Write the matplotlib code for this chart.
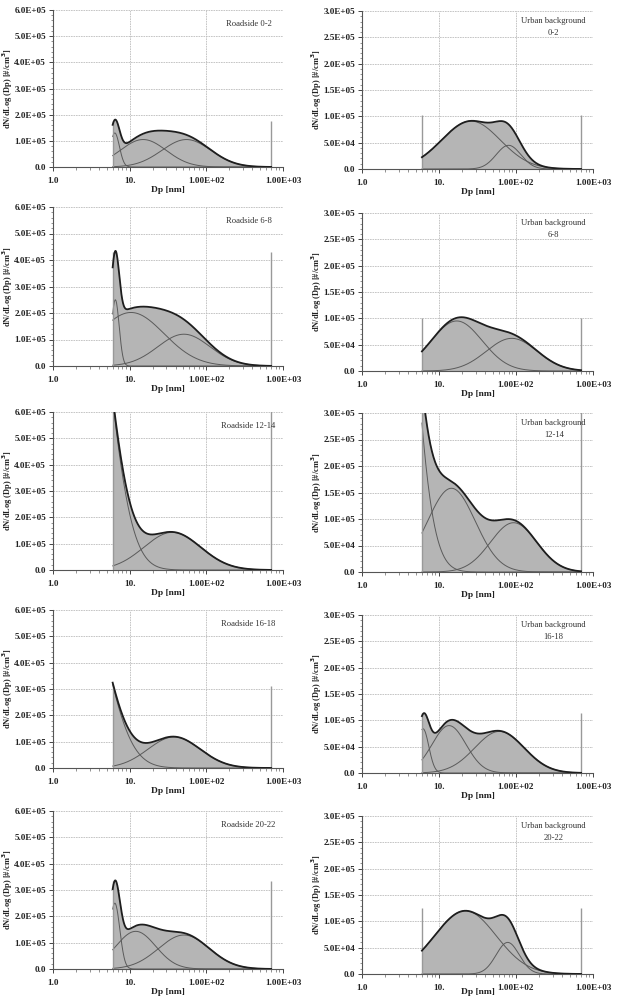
import numpy as np
import matplotlib
matplotlib.use('Agg')
import matplotlib.pyplot as plt
from matplotlib.ticker import FixedLocator, FuncFormatter, AutoMinorLocator, LogLocator, NullFormatter

plt.rcParams['font.family'] = ['Liberation Serif', 'DejaVu Serif']

# panel titles
roadside_titles = ['Roadside 0-2', 'Roadside 6-8', 'Roadside 12-14', 'Roadside 16-18', 'Roadside 20-22']
urban_titles = ['Urban background\n0-2', 'Urban background\n6-8', 'Urban background\n12-14',
                'Urban background\n16-18', 'Urban background\n20-22']

# fitted lognormal modes: (peak dN/dlogDp, peak Dp [nm], width in decades)
rs_0_2 = [(1.30e5, 6.4, 0.06), (1.05e5, 15, 0.30), (1.05e5, 55, 0.32)]
rs_6_8 = [(2.50e5, 6.5, 0.05), (2.02e5, 10.4, 0.43), (1.20e5, 51, 0.34)]
rs_12_14 = [(13.9e5, 2.4, 0.32), (1.43e5, 36, 0.37)]
rs_16_18 = [(7.4e5, 2.1, 0.35), (1.18e5, 38, 0.34)]
rs_20_22 = [(2.50e5, 6.4, 0.065), (1.43e5, 12, 0.26), (1.29e5, 51, 0.33)]

ub_0_2 = [(0.91e5, 26, 0.38), (0.45e5, 80, 0.16)]
ub_6_8 = [(0.95e5, 17, 0.33), (0.62e5, 88, 0.33)]
ub_12_14 = [(12e5, 2.0, 0.28), (1.58e5, 14.5, 0.31), (0.93e5, 93, 0.30)]
ub_16_18 = [(0.84e5, 6.2, 0.075), (0.90e5, 13.5, 0.22), (0.79e5, 61, 0.32)]
ub_20_22 = [(1.20e5, 22, 0.40), (0.60e5, 78, 0.15)]

roadside_modes = [rs_0_2, rs_6_8, rs_12_14, rs_16_18, rs_20_22]
urban_modes = [ub_0_2, ub_6_8, ub_12_14, ub_16_18, ub_20_22]

# height of the grey size-range markers at 6 nm and 700 nm
roadside_marker = [1.76e5, 4.3e5, 7e5, 3.1e5, 3.35e5]
urban_marker = [1.02e5, 1.0e5, 3.5e5, 1.13e5, 1.26e5]

dp_min, dp_max = 6.0, 700.0
x_tick_vals = [1, 10, 100, 1000]
x_tick_labels = ['1.0', '10.', '1.00E+02', '1.00E+03']

# axes boxes in pixels (top, bottom)
left_rows = [(10, 167), (207, 366), (412, 570), (610, 768), (811, 969)]
right_rows = [(11, 169), (213, 371), (413, 572), (615, 773), (816, 974)]

W, H = 620, 998
fig = plt.figure(figsize=(W / 100, H / 100), dpi=100)

dp = np.logspace(np.log10(dp_min), np.log10(dp_max), 400)


def mode_curve(peak, dg, w):
    return peak * np.exp(-(np.log10(dp / dg)) ** 2 / (2 * w ** 2))


def yfmt(v, pos):
    if abs(v) < 1e-9:
        return '0.0'
    return '%.1E' % v


def draw_panel(ax, modes, marker, ymax, ystep, title, tx, ty, xlab_gap=19):
    curves = [mode_curve(*m) for m in modes]
    total = np.sum(curves, axis=0)
    ax.fill_between(dp, 0, total, color='#b5b5b5', lw=0, zorder=2)
    for c in curves:
        ax.plot(dp, c, color='#5a5a5a', lw=0.7, zorder=3)
    ax.plot(dp, total, color='#1e1e1e', lw=1.3, zorder=4)
    ax.vlines([dp_min, dp_max], 0, marker, color='#999999', lw=1.0, zorder=3)

    ax.set_xscale('log')
    ax.set_xlim(1, 1000)
    ax.set_ylim(0, ymax)
    ax.xaxis.set_major_locator(FixedLocator(x_tick_vals))
    ax.set_xticklabels(x_tick_labels)
    ax.xaxis.set_minor_locator(LogLocator(base=10, subs=np.arange(2, 10)))
    ax.xaxis.set_minor_formatter(NullFormatter())
    ax.yaxis.set_major_locator(FixedLocator(np.arange(0, ymax + 1, ystep)))
    ax.yaxis.set_major_formatter(FuncFormatter(yfmt))
    ax.yaxis.set_minor_locator(AutoMinorLocator(5))
    ax.tick_params(which='major', length=3, width=0.7, labelsize=6.6, color='#444444',
                   labelcolor='#222222')
    ax.tick_params(axis='x', which='major', pad=4)
    ax.tick_params(axis='y', which='major', pad=2)
    ax.tick_params(which='minor', length=1.8, width=0.5, color='#666666')
    for lab in ax.get_xticklabels() + ax.get_yticklabels():
        lab.set_fontweight('bold')
    ax.grid(True, which='major', color='#bdbdbd', lw=0.6, ls=(0, (2, 1)), zorder=1)
    ax.set_axisbelow(True)
    for s in ['top', 'right']:
        ax.spines[s].set_visible(False)
    for s in ['left', 'bottom']:
        ax.spines[s].set_color('#555555')
        ax.spines[s].set_linewidth(0.8)
    h_px = ax.get_position().height * H
    ax.set_xlabel('Dp [nm]', fontsize=6.8, fontweight='bold', color='#222222', va='top')
    ax.xaxis.set_label_coords(0.5, -xlab_gap / h_px)
    ax.set_ylabel(r'dN/dLog (Dp) [#/cm$^\mathbf{3}$]', fontsize=6.0, fontweight='bold',
                  color='#222222', va='center')
    ax.yaxis.set_label_coords(-45 / 230, 0.5)
    ax.text(tx, ty, title, transform=ax.transAxes, ha='center', va='center',
            fontsize=6.2, color='#333333', linespacing=1.6)


for i in range(5):
    top, bot = left_rows[i]
    ax = fig.add_axes([53 / W, 1 - bot / H, 230 / W, (bot - top) / H])
    draw_panel(ax, roadside_modes[i], roadside_marker[i], 6e5, 1e5,
               roadside_titles[i], 0.85, 0.91)

    top, bot = right_rows[i]
    ax = fig.add_axes([362 / W, 1 - bot / H, 231 / W, (bot - top) / H])
    draw_panel(ax, urban_modes[i], urban_marker[i], 3e5, 0.5e5,
               urban_titles[i], 0.83, 0.9, xlab_gap=14 if i == 4 else 19)

fig.savefig('out.png', dpi=100)
